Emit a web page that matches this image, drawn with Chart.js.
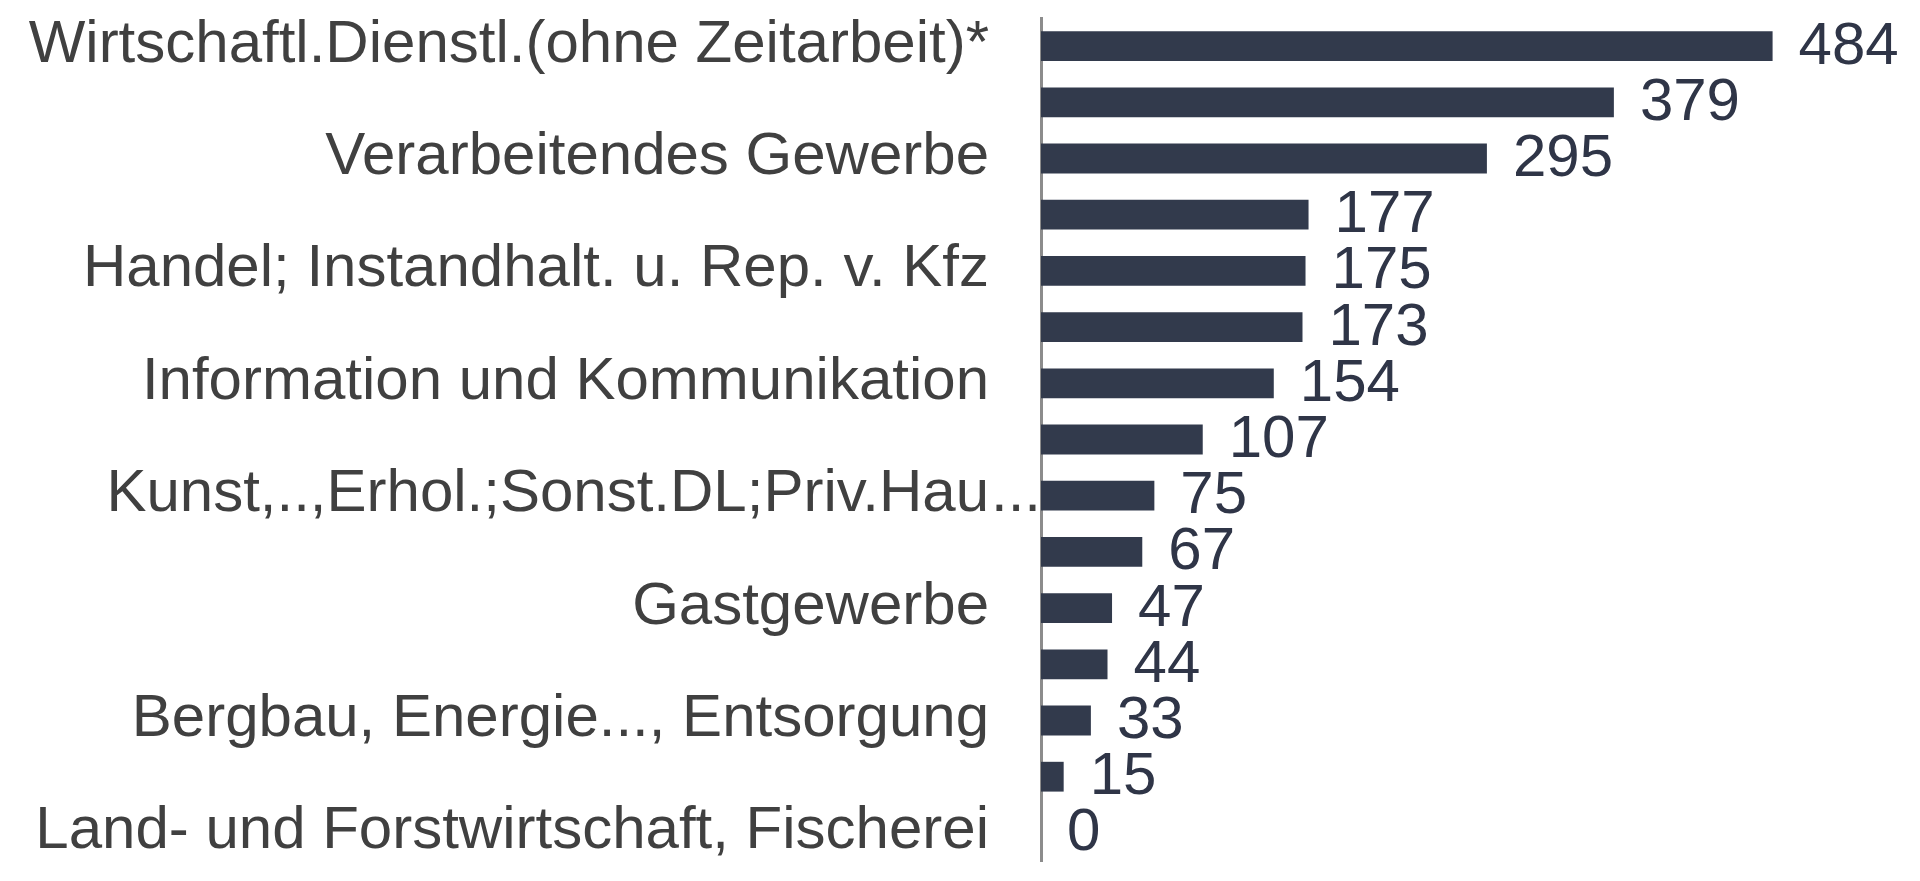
<!DOCTYPE html>
<html>
<head>
<meta charset="utf-8">
<script src="https://cdn.jsdelivr.net/npm/chart.js@4"></script>
<style>
  html, body { margin: 0; padding: 0; background: #fff; overflow: hidden; }
  canvas { display: block; }
</style>
</head>
<body>
<canvas id="myChart" width="1920" height="881"></canvas>
<script>
// Kategorien (nur jede zweite ist im Original beschriftet)
const labels = [
    'Wirtschaftl.Dienstl.(ohne Zeitarbeit)*',
    '',
    'Verarbeitendes Gewerbe',
    '',
    'Handel; Instandhalt. u. Rep. v. Kfz',
    '',
    'Information und Kommunikation',
    '',
    'Kunst,..,Erhol.;Sonst.DL;Priv.Hau...',
    '',
    'Gastgewerbe',
    '',
    'Bergbau, Energie..., Entsorgung',
    '',
    'Land- und Forstwirtschaft, Fischerei'
];
const values = [484, 379, 295, 177, 175, 173, 154, 107, 75, 67, 47, 44, 33, 15, 0];
const xMax = 563;

const FONT = '"Liberation Sans", Arial, sans-serif';
const barColor = '#323a4c';

document.addEventListener('DOMContentLoaded', function() {
    const ctx = document.getElementById('myChart').getContext('2d');

    new Chart(ctx, {
        type: 'bar',
        data: {
            labels: labels,
            datasets: [{
                data: values,
                backgroundColor: barColor,
                borderWidth: 0,
                barPercentage: 0.53,
                categoryPercentage: 1.0
            }]
        },
        options: {
            indexAxis: 'y',
            responsive: false,
            animation: false,
            layout: {
                padding: { top: 18, bottom: 20, left: 0, right: 28 }
            },
            plugins: {
                legend: { display: false },
                tooltip: { enabled: false }
            },
            scales: {
                x: {
                    display: false,
                    min: 0,
                    max: xMax
                },
                y: {
                    grid: { display: false, drawTicks: false },
                    border: { display: true, color: '#8c8c8c', width: 3 },
                    // Beschriftung wird unten selbst gezeichnet (sonst frisst das Padding oben/unten Platz)
                    ticks: { display: false },
                    afterFit: function(scale) {
                        scale.width = 1041;
                    }
                }
            }
        },
        plugins: [{
            beforeDatasetsDraw: function(chart) {
                const c = chart.ctx;
                const yScale = chart.scales.y;
                c.save();
                c.font = '60px ' + FONT;
                c.textBaseline = 'middle';
                c.fillStyle = '#404040';
                labels.forEach(function(lab, i) {
                    if (!lab) return;
                    const y = yScale.getPixelForTick(i) - 1;
                    const right = yScale.right - 52;
                    c.textAlign = 'right';
                    if (lab.indexOf('Kunst') === 0) {
                        // abgeschnittene Beschriftung: Punkte laufen bis an die Achse
                        c.fillText(lab.slice(0, -3), right, y);
                        c.textAlign = 'left';
                        c.fillText('...', right + 2, y);
                    } else {
                        c.fillText(lab, right, y);
                    }
                });
                c.restore();
            },
            afterDatasetsDraw: function(chart) {
                // Werte rechts neben den Balken
                const c = chart.ctx;
                const meta = chart.getDatasetMeta(0);
                c.save();
                c.font = '60px ' + FONT;
                c.textBaseline = 'middle';
                c.fillStyle = '#2f3547';
                c.textAlign = 'left';
                meta.data.forEach(function(bar, i) {
                    c.fillText(String(values[i]), bar.x + 26, bar.y + 1);
                });
                c.restore();
            }
        }]
    });
});
</script>
</body>
</html>
